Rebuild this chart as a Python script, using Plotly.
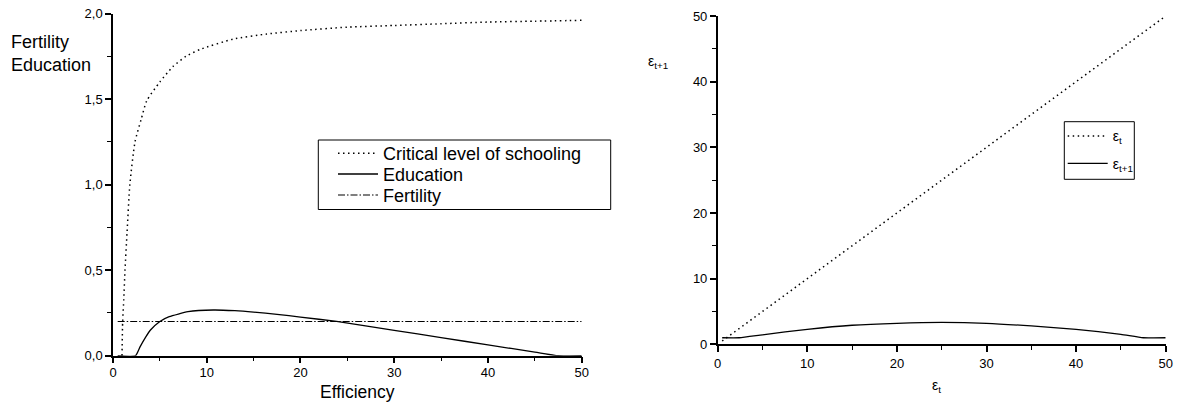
import plotly.graph_objects as go

W, H = 1186, 410

# ---------------- data ----------------
crit_x = [0.96, 1.03, 1.15, 1.28, 1.5, 1.8, 2.35, 3.0, 3.6, 5.0, 6.4, 7.8, 9.3,
          12.8, 16.4, 20, 25, 30, 35, 40, 45, 50]
crit_y = [0.0, 0.2, 0.33, 0.5, 0.72, 1.0, 1.25, 1.38, 1.49, 1.6, 1.69, 1.75, 1.79,
          1.85, 1.88, 1.9, 1.92, 1.93, 1.94, 1.95, 1.955, 1.96]

edu_x = [0.5, 2.4, 2.9, 3.5, 4, 5, 6, 8, 10.7, 13, 15, 17.5, 20, 23.85, 30, 35,
         40, 45, 47.5, 50]
edu_y = [0, 0, 0.053, 0.11, 0.15, 0.2, 0.228, 0.257, 0.267, 0.263, 0.255, 0.242,
         0.226, 0.2, 0.148, 0.106, 0.063, 0.021, 0, 0]

fert_x = [0.5, 50]
fert_y = [0.2, 0.2]

diag_x = [0.5, 50]
diag_y = [0.5, 50]

next_x = [0.5, 2.4, 5, 10, 15, 20, 25, 30, 35, 40, 45, 47.5, 50]
next_y = [1.0, 1.0, 1.45, 2.28, 2.9, 3.2, 3.33, 3.2, 2.8, 2.28, 1.52, 1.0, 1.0]

left_names = ["Critical level of schooling", "Education", "Fertility"]
right_names = ["ε<sub>t</sub>", "ε<sub>t+1</sub>"]

# ---------------- helpers ----------------
def px(x):
    return x / W

def py(y):
    return 1 - y / H

FONT = "Liberation Sans, Arial, sans-serif"
DOT = "1.5px,3.5px"
DASHDOT = "7px,2px,1.5px,2px"

fig = go.Figure()

fig.add_trace(go.Scatter(x=crit_x, y=crit_y, mode="lines", name=left_names[0],
                         line=dict(color="black", width=1.5, dash=DOT,
                                   shape="spline", smoothing=0.6),
                         xaxis="x", yaxis="y", legend="legend", showlegend=True))
fig.add_trace(go.Scatter(x=edu_x, y=edu_y, mode="lines", name=left_names[1],
                         line=dict(color="black", width=1.3, shape="spline",
                                   smoothing=0.5),
                         xaxis="x", yaxis="y", legend="legend2", showlegend=True))
fig.add_trace(go.Scatter(x=fert_x, y=fert_y, mode="lines", name=left_names[2],
                         line=dict(color="black", width=1.2, dash=DASHDOT),
                         xaxis="x", yaxis="y", legend="legend3", showlegend=True))
fig.add_trace(go.Scatter(x=diag_x, y=diag_y, mode="lines", name=right_names[0],
                         line=dict(color="black", width=1.5, dash=DOT),
                         xaxis="x2", yaxis="y2", legend="legend4", showlegend=True))
fig.add_trace(go.Scatter(x=next_x, y=next_y, mode="lines", name=right_names[1],
                         line=dict(color="black", width=1.3, shape="spline",
                                   smoothing=0.5),
                         xaxis="x2", yaxis="y2", legend="legend5", showlegend=True))

axis_common = dict(showline=True, linecolor="black", linewidth=1.5,
                   ticks="outside", ticklen=6, tickwidth=1.5, tickcolor="black",
                   showgrid=False, zeroline=False, automargin=False,
                   tickfont=dict(family=FONT, size=13, color="black"))

fig.update_layout(
    width=W, height=H, autosize=False,
    margin=dict(l=0, r=0, t=0, b=0),
    paper_bgcolor="white", plot_bgcolor="white",
    separators=",.",
    showlegend=True,
    font=dict(family=FONT, color="black"),
    xaxis=dict(domain=[px(113), px(581.7)], range=[0, 50], dtick=10,
               anchor="y", ticklabelstandoff=-2, **axis_common),
    yaxis=dict(domain=[1 - 355.7 / H, 1 - 13.5 / H], range=[0, 2], dtick=0.5,
               tickformat=".1f", anchor="x", **axis_common),
    xaxis2=dict(domain=[px(717.7), px(1165.7)], range=[0, 50], dtick=10,
                anchor="y2", **axis_common),
    yaxis2=dict(domain=[1 - 344.3 / H, 1 - 16 / H], range=[0, 50], dtick=10,
                anchor="x2", **axis_common),
)

minor_dticks = {"xaxis": 5, "yaxis": 0.25, "xaxis2": 5, "yaxis2": 5}
for ax, md in minor_dticks.items():
    fig.layout[ax].minor = dict(dtick=md, ticks="outside", ticklen=4, tickwidth=1.2,
                                tickcolor="black", showgrid=False)

# legends: one per entry for exact placement
leg_common = dict(xanchor="left", yanchor="top", bgcolor="rgba(0,0,0,0)",
                  borderwidth=0, itemclick=False, itemdoubleclick=False,
                  itemwidth=40, visible=True)
left_rows = [153.3, 174.0, 195.0]
for lname, row in zip(["legend", "legend2", "legend3"], left_rows):
    fig.layout[lname] = dict(x=px(333), y=py(row - 18.2),
                             font=dict(family=FONT, size=18, color="black"),
                             **leg_common)
right_rows = [136.0, 163.3]
for lname, row in zip(["legend4", "legend5"], right_rows):
    fig.layout[lname] = dict(x=px(1062.7), y=py(row - 15.6),
                             font=dict(family=FONT, size=14, color="black"),
                             **leg_common)

# legend boxes
fig.add_shape(type="rect", xref="paper", yref="paper",
              x0=px(318.3), x1=px(610.7), y0=py(209.5), y1=py(140),
              line=dict(color="black", width=1), fillcolor="rgba(0,0,0,0)")
fig.add_shape(type="rect", xref="paper", yref="paper",
              x0=px(1064.3), x1=px(1134.3), y0=py(179.3), y1=py(121.7),
              line=dict(color="black", width=1), fillcolor="rgba(0,0,0,0)")

# axis titles
fig.add_annotation(text="Fertility<br>Education", xref="paper", yref="paper",
                   x=px(9), y=py(30), xanchor="left", yanchor="top", align="left",
                   showarrow=False, font=dict(family=FONT, size=18, color="black"))
fig.add_annotation(text="Efficiency", xref="paper", yref="paper",
                   x=px(357), y=py(392), xanchor="center", yanchor="middle",
                   showarrow=False, font=dict(family=FONT, size=17.5, color="black"))
fig.add_annotation(text="ε<sub>t+1</sub>", xref="paper", yref="paper",
                   x=px(646), y=py(62), xanchor="left", yanchor="middle",
                   showarrow=False, font=dict(family=FONT, size=14, color="black"))
fig.add_annotation(text="ε<sub>t</sub>", xref="paper", yref="paper",
                   x=px(930), y=py(386), xanchor="left", yanchor="middle",
                   showarrow=False, font=dict(family=FONT, size=14, color="black"))

fig.write_html("out.html")
